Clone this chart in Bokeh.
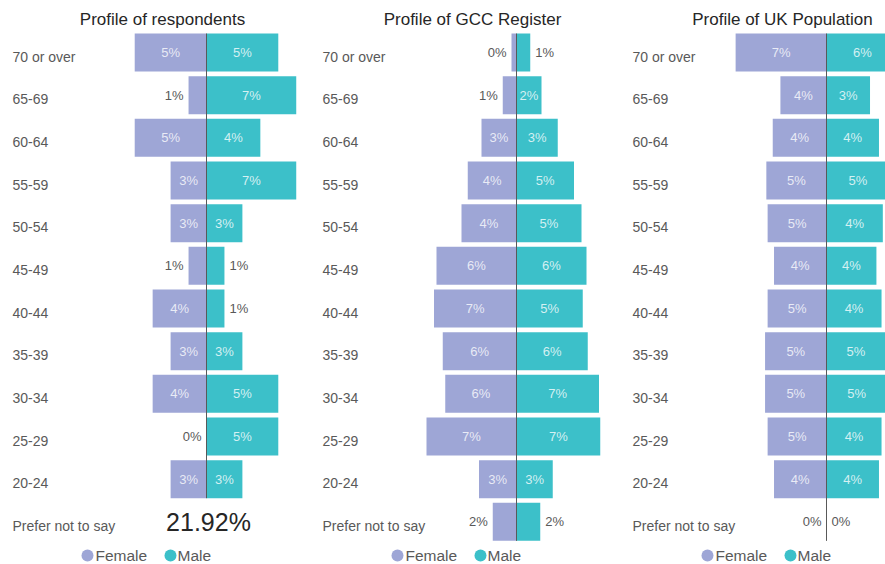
from bokeh.plotting import figure
from bokeh.layouts import row
from bokeh.models import Range1d, ColumnDataSource
from bokeh.embed import file_html
from bokeh.resources import INLINE
from bokeh.core.properties import value

# ---------------- data ----------------
age_groups = ["70 or over", "65-69", "60-64", "55-59", "50-54", "45-49",
              "40-44", "35-39", "30-34", "25-29", "20-24", "Prefer not to say"]
series_names = ["Female", "Male"]
panel_titles = ["Profile of respondents", "Profile of GCC Register", "Profile of UK Population"]

# Profile of respondents (% of respondents); "Prefer not to say" shown as a single share
resp_female = [5.48, 1.37, 5.48, 2.74, 2.74, 1.37, 4.11, 2.74, 4.11, 0.0, 2.74, None]
resp_male = [5.48, 6.85, 4.11, 6.85, 2.74, 1.37, 1.37, 2.74, 5.48, 5.48, 2.74, None]
resp_prefer_not = 21.92

# Profile of GCC Register
gcc_female = [0.4, 1.1, 2.8, 3.9, 4.4, 6.4, 6.6, 5.9, 5.7, 7.2, 3.0, 1.9]
gcc_male = [1.1, 2.0, 3.3, 4.6, 5.2, 5.6, 5.3, 5.7, 6.6, 6.7, 2.9, 1.9]

# Profile of UK Population
uk_female = [7.1, 3.6, 4.2, 4.7, 4.6, 4.1, 4.6, 4.8, 4.8, 4.6, 4.1, 0.0]
uk_male = [5.6, 3.4, 4.1, 4.9, 4.4, 3.9, 4.3, 4.6, 4.7, 4.3, 4.1, 0.0]

# ---------------- style ----------------
FEMALE_COLOR = "#9EA6D6"
MALE_COLOR = "#3CC0C9"
GREY = "#595959"
DARK = "#262626"
FONT = "Liberation Sans"
H = 564
PITCH = 42.67          # px per row
ROW0_PX = 52.0         # px centre of first row
BAR_H = 38 / PITCH
CENTRE_PX = 206.0


def px_to_y(py):
    return -(py - ROW0_PX) / PITCH


def make_panel(title, fem, mal, scale, width, big_value=None):
    x0 = -CENTRE_PX / scale
    x1 = (width - CENTRE_PX) / scale
    p = figure(width=width, height=H, x_range=Range1d(x0, x1),
               y_range=Range1d(px_to_y(H), px_to_y(0)),
               output_backend="svg", toolbar_location=None,
               x_axis_location=None, y_axis_location=None,
               min_border=0, outline_line_color=None,
               background_fill_color="white", border_fill_color="white")
    p.grid.visible = False

    ys = [-i for i in range(len(age_groups))]
    rows = [i for i in range(len(age_groups)) if fem[i] is not None]

    p.hbar(y=[ys[i] for i in rows], left=[-fem[i] for i in rows], right=0,
           height=BAR_H, fill_color=FEMALE_COLOR, line_color=None)
    p.hbar(y=[ys[i] for i in rows], left=0, right=[mal[i] for i in rows],
           height=BAR_H, fill_color=MALE_COLOR, line_color=None)

    # data labels
    lx, ly, lt, la, lc, lo = [], [], [], [], [], []
    for i in rows:
        for v, sign in ((fem[i], -1), (mal[i], 1)):
            txt = f"{int(v + 0.5)}%"
            if v * scale >= 24:
                lx.append(sign * v / 2); la.append("center"); lc.append("rgba(255,255,255,0.78)"); lo.append(0)
            else:
                lx.append(sign * v); la.append("right" if sign < 0 else "left"); lc.append(GREY); lo.append(5 * sign)
            ly.append(ys[i]); lt.append(txt)
    src = ColumnDataSource(dict(x=lx, y=ly, text=lt, align=la, color=lc, off=lo))
    p.text(x="x", y="y", text="text", source=src, text_align="align", text_color="color",
           x_offset="off", text_baseline="middle", text_font=value(FONT), text_font_size="13px")

    # centre line
    last = rows[-1]
    p.segment(x0=[0], y0=[ys[0] + BAR_H / 2], x1=[0], y1=[ys[last] - BAR_H / 2],
              line_color=GREY, line_width=1)

    # category labels
    p.text(x=[x0 + 12 / scale] * len(age_groups), y=ys, text=age_groups,
           text_align="left", text_baseline="middle", y_offset=4,
           text_color=GREY, text_font=value(FONT), text_font_size="14px")

    # title
    p.text(x=[x0 + 162 / scale], y=[px_to_y(19)], text=[title], text_align="center",
           text_baseline="middle", text_color=DARK, text_font=value(FONT), text_font_size="17px")

    if big_value is not None:
        p.text(x=[0.15], y=[ys[-1]], text=[f"{big_value:.2f}%"], text_align="center",
               text_baseline="middle", text_color=DARK, text_font=value(FONT), text_font_size="25px")

    # legend
    ly_ = px_to_y(555)
    p.scatter(x=[x0 + 87 / scale, x0 + 170 / scale], y=[ly_, ly_], size=12,
              fill_color=[FEMALE_COLOR, MALE_COLOR], line_color=None)
    p.text(x=[x0 + 95 / scale, x0 + 177 / scale], y=[ly_, ly_], text=series_names,
           text_align="left", text_baseline="middle", text_color=GREY,
           text_font=value(FONT), text_font_size="15.5px")
    return p


p1 = make_panel(panel_titles[0], resp_female, resp_male, 13.1, 310, big_value=resp_prefer_not)
p2 = make_panel(panel_titles[1], gcc_female, gcc_male, 12.5, 310)
p3 = make_panel(panel_titles[2], uk_female, uk_male, 12.8, 265)

layout = row(p1, p2, p3)
open("out.html", "w").write(file_html(layout, INLINE))
